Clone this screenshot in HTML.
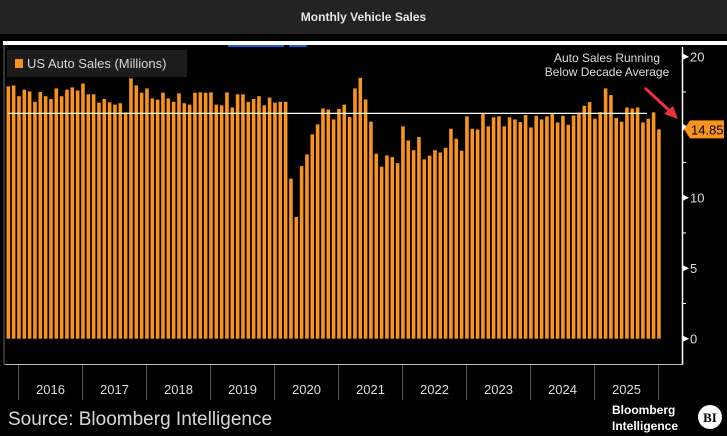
<!DOCTYPE html>
<html><head><meta charset="utf-8">
<style>
html,body{margin:0;padding:0;background:#000;}
body{width:727px;height:436px;overflow:hidden;position:relative;font-family:"Liberation Sans",sans-serif;}
#hdr{position:absolute;left:0;top:0;width:727px;height:34px;background:#232323;color:#e6e6e6;font-size:12px;font-weight:bold;text-align:center;line-height:34px;}
svg{position:absolute;left:0;top:0;}
</style></head>
<body>
<div id="hdr">Monthly Vehicle Sales</div>
<svg id="chart" width="727" height="436"></svg>
<script>
const years = ["2016","2017","2018","2019","2020","2021","2022","2023","2024","2025"];
const yTicks = [0,5,10,15,20];
const sales = [17.9,17.96,17.2,17.66,17.54,16.8,17.5,17.2,17.0,17.75,17.2,17.66,
17.82,17.6,18.1,17.33,17.33,16.74,17.0,16.76,16.6,16.7,16.05,18.46,
17.96,17.45,17.75,17.04,16.95,17.45,17.04,16.8,17.4,16.7,16.6,17.45,
17.47,17.45,17.47,16.6,16.55,17.47,16.4,17.33,17.33,16.8,17.0,17.2,
16.55,17.1,16.74,16.8,16.8,11.35,8.63,12.24,13.07,14.49,15.2,16.33,
16.25,15.55,16.3,16.6,15.72,17.75,18.5,16.97,15.39,13.12,12.2,13.0,
12.88,12.45,15.06,14.06,13.37,14.3,12.72,12.98,13.37,13.21,13.54,14.89,
14.18,13.33,15.77,14.89,14.84,15.93,15.06,15.7,15.77,15.06,15.7,15.55,
15.36,15.86,14.98,15.81,15.55,15.77,15.93,15.34,15.81,15.17,15.83,16.03,
16.52,16.78,15.6,16.07,17.75,17.28,15.65,15.39,16.4,16.33,16.4,15.34,
15.6,16.05,14.85];
const decadeAvg = [15.98];
const lastLabel = ["14.85"];

const NS="http://www.w3.org/2000/svg";
const svg=document.getElementById('chart');
function el(t,a,p){const e=document.createElementNS(NS,t);for(const k in a)e.setAttribute(k,a[k]);(p||svg).appendChild(e);return e;}
const y0=338.7, pxPerUnit=14.1;
function yScale(v){return y0-v*pxPerUnit;}
const x0=8.3, step=5.333;
function xScale(i){return x0+i*step;}
const yearStart=18.5, yearW=64;

// top rule + blue bits
let r=el('rect',{x:3,y:41,width:724,height:4,fill:'#fff'});


el('rect',{x:228,y:45,width:56,height:2,fill:'#1a5fd0'});
el('rect',{x:289,y:45,width:18,height:2,fill:'#1a5fd0'});
el('rect',{x:3,y:45,width:2,height:320,fill:'#333'});

// legend
const lg=el('g',{});


el('rect',{x:7,y:50,width:180,height:27,fill:'#1c1c1c'},lg);
el('rect',{x:15,y:59,width:8,height:9,fill:'#f7931e'},lg);
const lt=el('text',{x:27,y:68,fill:'#d8d8d8','font-size':13},lg);lt.textContent='US Auto Sales (Millions)';

// bars
sales.forEach((v,i)=>{
  const b=el('rect',{x:(xScale(i)-1.8).toFixed(2),y:yScale(v).toFixed(2),width:3.6,height:(v*pxPerUnit).toFixed(2),fill:'#f7931e'});
  
  
});

// average line
const av=el('line',{x1:8,x2:647,y1:yScale(decadeAvg[0]),y2:yScale(decadeAvg[0]),stroke:'#fff','stroke-width':1.3});



// axes
el('line',{x1:682.5,x2:682.5,y1:47,y2:365,stroke:'#fff','stroke-width':1.5});
el('line',{x1:5,x2:683,y1:364.5,y2:364.5,stroke:'#bbb','stroke-width':1});
yTicks.forEach(t=>{
  const y=yScale(t);
  el('path',{d:`M683 ${y-3}L689 ${y}L683 ${y+3}Z`,fill:'#fff'});
  const tx=el('text',{x:690,y:y+5,fill:'#ddd','font-size':13});
  tx.textContent=String(t);
  
  
  const ym=yScale(t+2.5);
  if(t<20) el('line',{x1:682,x2:686,y1:ym,y2:ym,stroke:'#fff'});
});

// x axis years
for(let k=0;k<=years.length;k++){
  const x=yearStart+k*yearW;
  el('line',{x1:x,x2:x,y1:365,y2:400,stroke:'#555'});
}
years.forEach((yr,k)=>{
  const t=el('text',{x:yearStart+k*yearW+yearW/2,y:394,fill:'#ddd','font-size':13,'text-anchor':'middle'});
  t.textContent=yr;
  
  
});

// last-value label
const lv=yScale(sales[sales.length-1]);
const lb=el('g',{});


el('path',{d:`M684 ${lv}L690 ${lv-9}L724 ${lv-9}L724 ${lv+9}L690 ${lv+9}Z`,fill:'#f7931e'},lb);
const lvt=el('text',{x:691,y:lv+5,fill:'#000','font-size':13},lb);lvt.textContent=lastLabel[0];

// annotation
const an=el('g',{});


const a1=el('text',{x:607,y:62,fill:'#ddd','font-size':12,'text-anchor':'middle'},an);a1.textContent='Auto Sales Running';
const a2=el('text',{x:607,y:76,fill:'#ddd','font-size':12,'text-anchor':'middle'},an);a2.textContent='Below Decade Average';
el('line',{x1:645,y1:88,x2:672,y2:113,stroke:'#e8323c','stroke-width':3},an);
el('path',{d:'M678 119L664 114L673 106Z',fill:'#e8323c'},an);

// footer
const src=el('text',{x:8,y:425,fill:'#d8d8d8','font-size':19});
src.textContent='Source: Bloomberg Intelligence';


const lg2=el('g',{});


const b1=el('text',{x:612,y:414,fill:'#fff','font-size':12,'font-weight':'bold'},lg2);b1.textContent='Bloomberg';
const b2=el('text',{x:612,y:430,fill:'#fff','font-size':12,'font-weight':'bold'},lg2);b2.textContent='Intelligence';
el('circle',{cx:710,cy:417,r:12,fill:'#fff'},lg2);
const b3=el('text',{x:710,y:422,fill:'#000','font-size':13,'font-weight':'bold','text-anchor':'middle','font-family':'Liberation Serif'},lg2);b3.textContent='BI';
</script>
</body></html>
